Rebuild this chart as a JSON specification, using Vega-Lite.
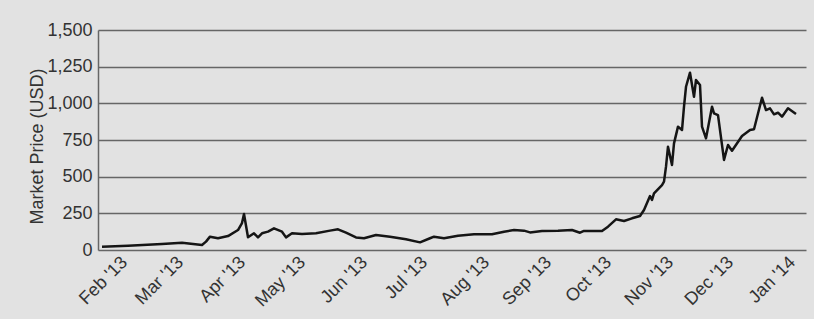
{
  "$schema": "https://vega.github.io/schema/vega-lite/v6.json",
  "autosize": {"type": "none"},
  "padding": {"left": 98, "top": 30, "right": 8, "bottom": 69},
  "width": 708,
  "height": 220,
  "background": "#e2e2e2",
  "config": {
    "view": {"stroke": null},
    "font": "Liberation Sans",
    "axis": {"labelFont": "Liberation Sans", "titleFont": "Liberation Sans"}
  },
  "data": {
    "values": [
      {"date": "2013-01-24", "price": 22},
      {"date": "2013-02-06", "price": 29},
      {"date": "2013-02-23", "price": 41},
      {"date": "2013-03-05", "price": 50},
      {"date": "2013-03-15", "price": 34},
      {"date": "2013-03-17", "price": 57},
      {"date": "2013-03-19", "price": 91},
      {"date": "2013-03-23", "price": 80},
      {"date": "2013-03-28", "price": 95},
      {"date": "2013-04-02", "price": 136},
      {"date": "2013-04-04", "price": 184},
      {"date": "2013-04-05", "price": 245},
      {"date": "2013-04-07", "price": 87},
      {"date": "2013-04-10", "price": 114},
      {"date": "2013-04-12", "price": 86},
      {"date": "2013-04-14", "price": 114},
      {"date": "2013-04-17", "price": 125},
      {"date": "2013-04-20", "price": 148},
      {"date": "2013-04-24", "price": 125},
      {"date": "2013-04-26", "price": 86},
      {"date": "2013-04-29", "price": 114},
      {"date": "2013-05-04", "price": 109},
      {"date": "2013-05-11", "price": 114},
      {"date": "2013-05-18", "price": 132},
      {"date": "2013-05-22", "price": 141},
      {"date": "2013-05-26", "price": 118},
      {"date": "2013-05-31", "price": 86},
      {"date": "2013-06-04", "price": 80},
      {"date": "2013-06-10", "price": 102},
      {"date": "2013-06-17", "price": 91},
      {"date": "2013-06-25", "price": 73},
      {"date": "2013-07-02", "price": 52},
      {"date": "2013-07-07", "price": 80},
      {"date": "2013-07-09", "price": 91},
      {"date": "2013-07-14", "price": 80},
      {"date": "2013-07-21", "price": 97},
      {"date": "2013-07-29", "price": 107},
      {"date": "2013-08-07", "price": 107},
      {"date": "2013-08-13", "price": 125},
      {"date": "2013-08-18", "price": 136},
      {"date": "2013-08-23", "price": 132},
      {"date": "2013-08-26", "price": 120},
      {"date": "2013-09-01", "price": 130},
      {"date": "2013-09-09", "price": 132},
      {"date": "2013-09-16", "price": 136},
      {"date": "2013-09-20", "price": 118},
      {"date": "2013-09-22", "price": 130},
      {"date": "2013-10-01", "price": 130},
      {"date": "2013-10-04", "price": 159},
      {"date": "2013-10-08", "price": 209},
      {"date": "2013-10-12", "price": 198},
      {"date": "2013-10-16", "price": 216},
      {"date": "2013-10-20", "price": 232},
      {"date": "2013-10-22", "price": 273},
      {"date": "2013-10-25", "price": 368},
      {"date": "2013-10-26", "price": 341},
      {"date": "2013-10-27", "price": 386},
      {"date": "2013-10-31", "price": 443},
      {"date": "2013-11-01", "price": 466},
      {"date": "2013-11-02", "price": 568},
      {"date": "2013-11-03", "price": 704},
      {"date": "2013-11-05", "price": 580},
      {"date": "2013-11-06", "price": 727},
      {"date": "2013-11-08", "price": 841},
      {"date": "2013-11-10", "price": 818},
      {"date": "2013-11-11", "price": 977},
      {"date": "2013-11-12", "price": 1113},
      {"date": "2013-11-14", "price": 1209},
      {"date": "2013-11-16", "price": 1045},
      {"date": "2013-11-17", "price": 1159},
      {"date": "2013-11-19", "price": 1125},
      {"date": "2013-11-20", "price": 841},
      {"date": "2013-11-22", "price": 761},
      {"date": "2013-11-25", "price": 977},
      {"date": "2013-11-26", "price": 932},
      {"date": "2013-11-28", "price": 920},
      {"date": "2013-12-01", "price": 614},
      {"date": "2013-12-03", "price": 716},
      {"date": "2013-12-05", "price": 677},
      {"date": "2013-12-10", "price": 777},
      {"date": "2013-12-14", "price": 818},
      {"date": "2013-12-16", "price": 823},
      {"date": "2013-12-20", "price": 1038},
      {"date": "2013-12-22", "price": 954},
      {"date": "2013-12-24", "price": 966},
      {"date": "2013-12-26", "price": 925},
      {"date": "2013-12-28", "price": 936},
      {"date": "2013-12-30", "price": 909},
      {"date": "2014-01-02", "price": 966},
      {"date": "2014-01-06", "price": 927}
    ]
  },
  "mark": {"type": "line", "color": "#151515", "strokeWidth": 2.5, "strokeJoin": "round"},
  "encoding": {
    "x": {
      "field": "date",
      "type": "temporal",
      "scale": {"type": "utc", "domain": [{"year": 2013, "month": 1, "date": 22, "utc": true}, {"year": 2014, "month": 1, "date": 11, "utc": true}]},
      "axis": {
        "title": null,
        "format": "%b '%y",
        "values": [
          {"year": 2013, "month": 2, "date": 1, "utc": true},
          {"year": 2013, "month": 3, "date": 1, "utc": true},
          {"year": 2013, "month": 4, "date": 1, "utc": true},
          {"year": 2013, "month": 5, "date": 1, "utc": true},
          {"year": 2013, "month": 6, "date": 1, "utc": true},
          {"year": 2013, "month": 7, "date": 1, "utc": true},
          {"year": 2013, "month": 8, "date": 1, "utc": true},
          {"year": 2013, "month": 9, "date": 1, "utc": true},
          {"year": 2013, "month": 10, "date": 1, "utc": true},
          {"year": 2013, "month": 11, "date": 1, "utc": true},
          {"year": 2013, "month": 12, "date": 1, "utc": true},
          {"year": 2014, "month": 1, "date": 1, "utc": true}
        ],
        "labelAngle": -45,
        "labelFontSize": 18,
        "labelColor": "#333333",
        "labelPadding": 3,
        "labelDx": -4,
        "labelDy": -4,
        "labelOverlap": false,
        "ticks": false,
        "domain": false,
        "grid": false
      }
    },
    "y": {
      "field": "price",
      "type": "quantitative",
      "scale": {"domain": [0, 1500], "nice": false},
      "axis": {
        "title": "Market Price (USD)",
        "titleFontSize": 18,
        "titleFontWeight": "normal",
        "titleColor": "#333333",
        "titlePadding": 0,
        "titleY": 116,
        "values": [0, 250, 500, 750, 1000, 1250, 1500],
        "format": ",d",
        "labelFontSize": 18,
        "labelColor": "#333333",
        "labelPadding": 6,
        "ticks": false,
        "domain": true,
        "domainColor": "#666666",
        "domainWidth": 1.5,
        "grid": true,
        "gridColor": "#666666",
        "gridWidth": 1.5
      }
    }
  }
}
